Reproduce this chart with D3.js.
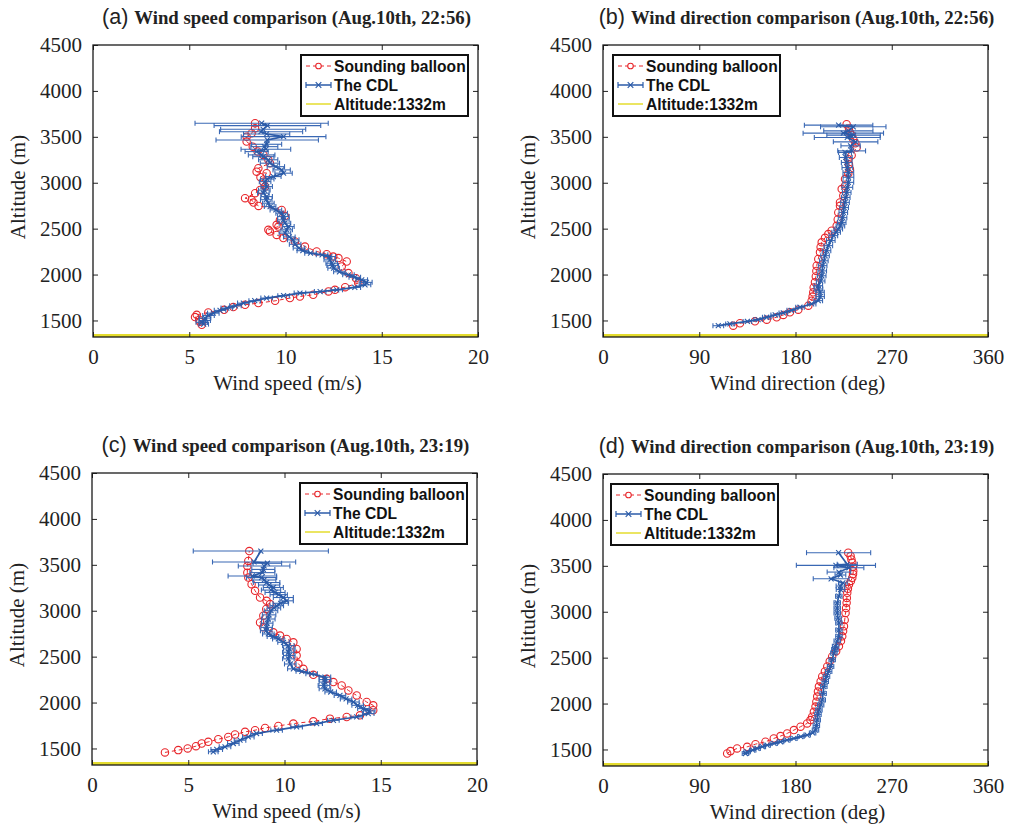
<!DOCTYPE html>
<html>
<head>
<meta charset="utf-8">
<script src="https://cdn.jsdelivr.net/npm/d3@7"></script>
<style>
  body { margin: 0; background: #fff; }
  svg { display: block; }
</style>
</head>
<body>
<svg id="fig" width="1009" height="827"></svg>
<script>
(function () {
  "use strict";

  // ---- data ----
  const yTicks = [1500, 2000, 2500, 3000, 3500, 4000, 4500];
  const speedTicks = [0, 5, 10, 15, 20];
  const dirTicks = [0, 90, 180, 270, 360];
  const siteAltitude = 1332;

  // (a) 22:56 wind speed
  const altBalloonA = [1453, 1485, 1508, 1537, 1562, 1587, 1616, 1646, 1671, 1689, 1714, 1744, 1761, 1780, 1816, 1834, 1863, 1907, 1961, 2016, 2088, 2142, 2179, 2196, 2222, 2251, 2305, 2360, 2397, 2432, 2469, 2487, 2523, 2542, 2595, 2639, 2704, 2748, 2784, 2813, 2832, 2886, 2922, 2958, 3012, 3060, 3104, 3121, 3158, 3213, 3249, 3303, 3340, 3393, 3448, 3502, 3539, 3593, 3648];
  const spdBalloonA = [5.65, 5.55, 5.52, 5.30, 5.39, 5.99, 6.81, 7.29, 7.90, 8.59, 9.46, 10.23, 10.75, 11.44, 12.23, 12.57, 13.10, 13.78, 13.66, 13.27, 12.92, 13.18, 12.75, 12.48, 12.14, 11.62, 11.01, 10.49, 9.89, 9.54, 9.19, 9.11, 9.63, 9.54, 9.71, 9.97, 9.80, 8.60, 8.34, 8.24, 7.90, 8.42, 8.68, 8.94, 8.85, 8.70, 9.02, 8.50, 8.59, 9.19, 9.11, 8.85, 8.55, 8.30, 7.98, 7.98, 8.24, 8.42, 8.42];
  const altCdlA = [1460, 1480, 1500, 1526, 1555, 1580, 1610, 1635, 1660, 1689, 1715, 1744, 1770, 1798, 1815, 1834, 1860, 1888, 1915, 1943, 1970, 1997, 2030, 2070, 2100, 2124, 2160, 2196, 2215, 2233, 2260, 2288, 2330, 2378, 2410, 2451, 2487, 2523, 2560, 2596, 2632, 2668, 2704, 2740, 2777, 2815, 2849, 2886, 2920, 2958, 3012, 3040, 3067, 3104, 3140, 3175, 3213, 3250, 3284, 3303, 3339, 3365, 3393, 3419, 3466, 3502, 3531, 3556, 3582, 3622, 3648];
  const spdCdlA = [5.75, 5.65, 5.80, 5.82, 6.00, 6.25, 6.60, 6.95, 7.40, 7.81, 8.40, 9.02, 9.90, 10.75, 11.80, 12.66, 13.60, 14.13, 14.20, 13.96, 13.60, 13.27, 12.80, 12.50, 12.45, 12.40, 12.30, 12.30, 11.90, 11.30, 10.90, 10.70, 10.50, 10.40, 10.20, 9.97, 10.06, 10.15, 9.97, 9.89, 9.89, 9.80, 9.50, 9.20, 9.11, 9.00, 9.02, 8.85, 8.90, 9.02, 8.94, 9.05, 9.37, 9.90, 9.80, 9.50, 9.19, 9.10, 8.85, 8.76, 8.50, 8.98, 8.90, 9.02, 9.05, 9.90, 9.02, 8.73, 8.84, 9.06, 8.76];
  const errCdlA = [0.25, 0.3, 0.3, 0.3, 0.3, 0.3, 0.3, 0.3, 0.3, 0.3, 0.3, 0.3, 0.3, 0.3, 0.3, 0.3, 0.3, 0.3, 0.3, 0.3, 0.3, 0.3, 0.3, 0.3, 0.3, 0.3, 0.3, 0.3, 0.3, 0.3, 0.3, 0.3, 0.3, 0.3, 0.3, 0.3, 0.3, 0.3, 0.3, 0.3, 0.3, 0.3, 0.3, 0.3, 0.3, 0.3, 0.3, 0.3, 0.3, 0.3, 0.3, 0.35, 0.4, 0.45, 0.45, 0.45, 0.5, 0.5, 0.55, 0.69, 0.6, 1.29, 0.7, 0.78, 2.66, 2.2, 1.2, 2.16, 2.21, 2.77, 3.46];

  // (b) 22:56 wind direction
  const altBalloonB = [1443, 1470, 1491, 1509, 1535, 1560, 1589, 1618, 1661, 1716, 1760, 1807, 1860, 1916, 1980, 2040, 2097, 2170, 2242, 2300, 2351, 2400, 2441, 2477, 2531, 2600, 2677, 2749, 2786, 2858, 2931, 2967, 3040, 3100, 3148, 3200, 3257, 3300, 3384, 3430, 3475, 3520, 3548, 3590, 3638];
  const dirBalloonB = [121.8, 128.1, 142.1, 153.1, 162.4, 168.6, 174.8, 182.6, 192.0, 195.1, 196.0, 196.6, 197.0, 198.2, 199.0, 199.5, 199.8, 201.3, 202.9, 203.5, 204.5, 207.6, 210.7, 213.8, 218.5, 219.5, 220.0, 221.6, 221.6, 224.7, 223.2, 226.3, 226.3, 229.4, 230.9, 230.0, 229.4, 232.5, 237.2, 236.0, 234.0, 232.5, 230.9, 230.0, 227.8];
  const altCdlB = [1443, 1462, 1490, 1510, 1535, 1560, 1582, 1610, 1644, 1680, 1716, 1760, 1807, 1843, 1879, 1930, 1987, 2040, 2097, 2150, 2206, 2260, 2315, 2370, 2424, 2460, 2496, 2530, 2568, 2620, 2677, 2730, 2786, 2840, 2895, 2950, 3004, 3060, 3112, 3165, 3221, 3275, 3330, 3347, 3402, 3445, 3493, 3518, 3540, 3565, 3609, 3627];
  const dirCdlB = [107.8, 118.7, 135, 145, 153.1, 161, 168.6, 176, 184.2, 195.1, 201.3, 203, 202.9, 201.5, 201.3, 203.5, 204.5, 205, 205.4, 206.5, 207.6, 209, 210.7, 213, 215.4, 218, 220, 222, 223.2, 224, 224.7, 225.5, 226.3, 227, 227.9, 228.5, 229.4, 229.5, 229.4, 228.5, 227.9, 227, 226.3, 232.5, 231.5, 236.2, 228.4, 234.3, 224.7, 229.4, 234.0, 220.3];
  const errCdlB = [5, 4, 4, 4, 4, 4, 4, 4, 4, 4, 4, 4, 4, 4, 4, 4, 4, 4, 4, 4, 4, 4, 4, 4, 4, 4, 4, 4, 4, 4, 4, 4, 4, 4, 4, 5, 5, 5, 5, 5, 5, 6, 6, 13, 9, 20.8, 30.8, 25, 37.6, 23, 30.6, 32];

  // (c) 23:19 wind speed
  const altBalloonC = [1457, 1482, 1500, 1525, 1554, 1572, 1601, 1626, 1652, 1681, 1699, 1724, 1746, 1771, 1796, 1825, 1843, 1861, 1916, 1970, 2006, 2078, 2132, 2187, 2223, 2259, 2302, 2367, 2422, 2512, 2584, 2656, 2693, 2729, 2765, 2819, 2873, 2946, 3020, 3072, 3108, 3144, 3217, 3289, 3361, 3415, 3488, 3542, 3650];
  const spdBalloonC = [3.79, 4.48, 4.97, 5.40, 5.70, 6.04, 6.56, 7.08, 7.43, 7.95, 8.47, 8.99, 9.68, 10.46, 11.50, 12.36, 13.23, 13.92, 14.61, 14.61, 14.27, 13.75, 13.32, 12.97, 12.54, 12.19, 11.50, 10.98, 10.72, 10.63, 10.63, 10.46, 10.11, 9.77, 9.42, 8.90, 8.73, 8.90, 9.05, 9.25, 9.07, 8.73, 8.47, 8.29, 8.12, 8.07, 8.07, 8.12, 8.17];
  const altCdlC = [1464, 1489, 1518, 1554, 1590, 1626, 1663, 1699, 1735, 1771, 1807, 1843, 1880, 1910, 1934, 1970, 2006, 2040, 2078, 2115, 2150, 2187, 2223, 2250, 2277, 2313, 2340, 2367, 2420, 2476, 2512, 2548, 2584, 2620, 2656, 2693, 2720, 2747, 2783, 2819, 2865, 2910, 2955, 3000, 3030, 3054, 3081, 3108, 3144, 3175, 3199, 3225, 3253, 3280, 3307, 3335, 3361, 3379, 3415, 3450, 3488, 3517, 3531, 3650];
  const spdCdlC = [6.30, 6.48, 6.91, 7.34, 7.69, 8.12, 8.55, 9.59, 10.63, 11.67, 12.54, 13.75, 14.35, 14.40, 14.10, 13.80, 13.58, 13.20, 12.88, 12.40, 12.10, 12.05, 12.10, 12.10, 12.10, 11.41, 10.90, 10.46, 10.30, 10.20, 10.25, 10.20, 10.25, 10.20, 9.95, 9.68, 9.40, 9.16, 9.05, 9.07, 9.10, 9.16, 9.20, 9.30, 9.45, 9.60, 9.80, 10.11, 9.94, 9.70, 9.51, 9.30, 9.42, 9.20, 9.07, 8.95, 8.81, 8.33, 8.85, 8.90, 8.94, 9.11, 8.42, 8.77];
  const errCdlC = [0.25, 0.3, 0.3, 0.3, 0.3, 0.3, 0.3, 0.3, 0.3, 0.3, 0.3, 0.3, 0.3, 0.3, 0.3, 0.3, 0.3, 0.3, 0.3, 0.3, 0.3, 0.3, 0.3, 0.3, 0.3, 0.3, 0.3, 0.3, 0.3, 0.3, 0.3, 0.3, 0.3, 0.3, 0.3, 0.3, 0.3, 0.3, 0.3, 0.3, 0.3, 0.35, 0.35, 0.35, 0.35, 0.35, 0.4, 0.35, 0.52, 0.45, 0.52, 0.5, 0.52, 0.55, 0.69, 0.6, 0.78, 1.26, 0.65, 0.6, 1.34, 0.74, 2.16, 3.51];

  // (d) 23:19 wind direction
  const altBalloonD = [1456, 1482, 1511, 1529, 1558, 1584, 1620, 1646, 1675, 1711, 1748, 1784, 1820, 1857, 1910, 1967, 2020, 2076, 2130, 2185, 2240, 2295, 2350, 2404, 2460, 2513, 2570, 2623, 2680, 2732, 2790, 2841, 2910, 2987, 3040, 3097, 3150, 3206, 3250, 3297, 3335, 3370, 3410, 3443, 3490, 3534, 3570, 3607, 3643];
  const dirBalloonD = [116.1, 119.2, 125.4, 134.8, 142.6, 151.9, 159.7, 166.0, 172.2, 178.5, 184.7, 190.9, 194.0, 195.6, 197.2, 198.7, 199.5, 200.3, 201.0, 201.9, 203.5, 205.0, 207.5, 209.7, 212.0, 214.3, 218.0, 220.6, 222.5, 223.7, 224.5, 225.3, 226.0, 226.8, 227.3, 227.8, 228.0, 228.4, 229.0, 230.0, 231.8, 233.1, 233.8, 234.0, 233.6, 233.1, 232.3, 231.5, 229.3];
  const altCdlD = [1456, 1474, 1493, 1511, 1530, 1547, 1566, 1584, 1602, 1620, 1640, 1657, 1680, 1711, 1760, 1821, 1880, 1930, 1985, 2039, 2110, 2185, 2240, 2295, 2350, 2404, 2477, 2550, 2590, 2623, 2680, 2732, 2800, 2878, 2930, 2987, 3040, 3097, 3170, 3242, 3280, 3315, 3359, 3400, 3432, 3479, 3505, 3516, 3643];
  const dirCdlD = [133.2, 134.8, 140, 144.1, 149, 153.5, 160, 166.0, 172, 178.5, 185, 190.9, 196, 198.7, 199.5, 200.3, 201, 201.9, 203.5, 205.0, 205.8, 206.5, 207.8, 209.0, 211, 212.8, 214.3, 215.9, 216.8, 217.5, 219, 220.6, 220.6, 220.6, 219.8, 219.0, 219, 219.0, 220.5, 222.1, 222.0, 224.3, 213.3, 222, 220.6, 229.9, 217.8, 228.4, 220.3];
  const errCdlD = [3, 3, 3, 3, 3, 3, 3, 3, 3, 3, 3, 3, 3, 3, 3, 3, 3, 3, 3, 3, 3, 3, 3, 3, 3, 3, 3, 3, 3, 3, 3, 3, 3, 3, 3, 3, 3, 3, 3, 4, 4, 4, 16.7, 5, 11, 14, 37, 9.4, 30];

  const legendLabels = ["Sounding balloon", "The CDL", "Altitude:1332m"];

  // ---- drawing ----
  const W = 385, H = 292;
  const RED = "#e8262b", BLUE = "#2b5ba8", YELLOW = "#e4dc2e";
  const SERIF = "Liberation Serif, Times New Roman, serif";
  const SANS = "Liberation Sans, Arial, sans-serif";
  const svg = d3.select("#fig");

  function zip(alts, vals, errs) {
    return alts.map(function (a, i) {
      return { alt: a, v: vals[i], e: errs ? errs[i] : 0 };
    });
  }

  function drawPanel(p) {
    let g = svg.append("g").attr("transform", `translate(${p.left},${p.top})`);
    let x = d3.scaleLinear().domain(p.xDomain).range([0, W]);
    let y = d3.scaleLinear().domain([1320, 4500]).range([H, 0]);

    let clipId = "clip-" + p.id;
    g.append("clipPath").attr("id", clipId)
      .append("rect").attr("width", W).attr("height", H);

    // title
    let title = g.append("text")
      .attr("x", W / 2 + 1).attr("y", -28)
      .attr("text-anchor", "middle")
      .attr("dominant-baseline", "central")
      .attr("fill", "#222");
    title.append("tspan")
      .attr("font-family", SANS)
      .attr("font-size", 21.5)
      .text(`(${p.id}) `);
    title.append("tspan")
      .attr("font-family", SERIF)
      .attr("font-weight", "bold")
      .attr("font-size", 18.8)
      .text(p.title);

    let plot = g.append("g").attr("clip-path", `url(#${clipId})`);

    // site altitude line
    plot.append("line")
      .attr("x1", 0).attr("x2", W)
      .attr("y1", y(siteAltitude)).attr("y2", y(siteAltitude))
      .attr("stroke", YELLOW).attr("stroke-width", 4);

    // sounding balloon
    let balloon = zip(p.balloonAlt, p.balloonVal);
    let line = d3.line().x(d => x(d.v)).y(d => y(d.alt));
    plot.append("path").datum(balloon)
      .attr("d", line)
      .attr("fill", "none").attr("stroke", RED)
      .attr("stroke-width", 1).attr("stroke-dasharray", "4,3");
    plot.selectAll(".balloon").data(balloon).enter().append("circle")
      .attr("class", "balloon")
      .attr("cx", d => x(d.v)).attr("cy", d => y(d.alt))
      .attr("r", 3.7)
      .attr("fill", "none").attr("stroke", RED).attr("stroke-width", 1.1);

    // CDL with error bars
    let cdl = zip(p.cdlAlt, p.cdlVal, p.cdlErr);
    let bars = plot.selectAll(".bar").data(cdl).enter().append("g").attr("class", "bar")
      .attr("stroke", "#3a68b4").attr("stroke-width", 1.1);
    bars.append("line")
      .attr("x1", d => x(d.v - d.e)).attr("x2", d => x(d.v + d.e))
      .attr("y1", d => y(d.alt)).attr("y2", d => y(d.alt));
    bars.append("line")
      .attr("x1", d => x(d.v - d.e)).attr("x2", d => x(d.v - d.e))
      .attr("y1", d => y(d.alt) - 2.5).attr("y2", d => y(d.alt) + 2.5);
    bars.append("line")
      .attr("x1", d => x(d.v + d.e)).attr("x2", d => x(d.v + d.e))
      .attr("y1", d => y(d.alt) - 2.5).attr("y2", d => y(d.alt) + 2.5);
    plot.append("path").datum(cdl)
      .attr("d", line)
      .attr("fill", "none").attr("stroke", BLUE).attr("stroke-width", 1.7);
    plot.selectAll(".cross").data(cdl).enter().append("path")
      .attr("class", "cross")
      .attr("transform", d => `translate(${x(d.v)},${y(d.alt)})`)
      .attr("d", "M-2.5,-2.5L2.5,2.5M-2.5,2.5L2.5,-2.5")
      .attr("stroke", BLUE).attr("stroke-width", 1.1);

    // axes, ticks pointing inward on all four sides
    let xAxis = g.append("g").attr("transform", `translate(0,${H})`)
      .call(d3.axisBottom(x).tickValues(p.xTicks).tickFormat(d3.format("d"))
        .tickSizeInner(-5).tickSizeOuter(0).tickPadding(12));
    let yAxis = g.append("g")
      .call(d3.axisLeft(y).tickValues(yTicks).tickFormat(d3.format("d"))
        .tickSizeInner(-5).tickSizeOuter(0).tickPadding(11));
    g.append("g")
      .call(d3.axisTop(x).tickValues(p.xTicks).tickSizeInner(-5).tickSizeOuter(0).tickFormat(""));
    g.append("g").attr("transform", `translate(${W},0)`)
      .call(d3.axisRight(y).tickValues(yTicks).tickSizeInner(-5).tickSizeOuter(0).tickFormat(""));
    g.selectAll(".domain").attr("stroke", "none");
    g.selectAll(".tick line").attr("stroke", "#222").attr("stroke-width", 1);
    [xAxis, yAxis].forEach(function (ax) {
      ax.selectAll("text")
        .attr("font-family", SERIF)
        .attr("font-size", 21)
        .attr("fill", "#222");
    });
    g.append("rect")
      .attr("width", W).attr("height", H)
      .attr("fill", "none").attr("stroke", "#1a1a1a").attr("stroke-width", 1.3);

    // axis labels
    g.append("text")
      .attr("x", W / 2 + 2).attr("y", H + 46)
      .attr("text-anchor", "middle").attr("dominant-baseline", "central")
      .attr("font-family", SERIF)
      .attr("font-size", 21).attr("fill", "#222")
      .text(p.xLabel);
    g.append("text")
      .attr("transform", `translate(-75,${H / 2 - 4}) rotate(-90)`)
      .attr("text-anchor", "middle").attr("dominant-baseline", "central")
      .attr("font-family", SERIF)
      .attr("font-size", 21).attr("fill", "#222")
      .text("Altitude (m)");

    // legend
    let lg = g.append("g").attr("transform", `translate(${p.legendX},10)`);
    lg.append("rect")
      .attr("width", 167).attr("height", 61)
      .attr("fill", "#fff").attr("stroke", "#111").attr("stroke-width", 2);
    let rows = [11, 30, 49];
    let x0 = 5, x1 = 30, xm = 17.5;
    // balloon sample
    lg.append("line").attr("x1", x0).attr("x2", x1).attr("y1", rows[0]).attr("y2", rows[0])
      .attr("stroke", RED).attr("stroke-width", 1).attr("stroke-dasharray", "4,3");
    lg.append("circle").attr("cx", xm).attr("cy", rows[0]).attr("r", 2.8)
      .attr("fill", "#fff").attr("stroke", RED).attr("stroke-width", 1.1);
    // CDL sample
    lg.append("line").attr("x1", x0).attr("x2", x1).attr("y1", rows[1]).attr("y2", rows[1])
      .attr("stroke", BLUE).attr("stroke-width", 1.5);
    [x0, x1].forEach(function (cx) {
      lg.append("line").attr("x1", cx).attr("x2", cx).attr("y1", rows[1] - 3).attr("y2", rows[1] + 3)
        .attr("stroke", BLUE).attr("stroke-width", 1.2);
    });
    lg.append("path").attr("transform", `translate(${xm},${rows[1]})`)
      .attr("d", "M-2.8,-2.8L2.8,2.8M-2.8,2.8L2.8,-2.8")
      .attr("stroke", BLUE).attr("stroke-width", 1.2);
    // site sample
    lg.append("line").attr("x1", x0).attr("x2", x1).attr("y1", rows[2]).attr("y2", rows[2])
      .attr("stroke", YELLOW).attr("stroke-width", 1.5);
    legendLabels.forEach(function (label, i) {
      lg.append("text")
        .attr("x", 33).attr("y", rows[i])
        .attr("dominant-baseline", "central")
        .attr("font-family", SANS)
        .attr("font-weight", "bold").attr("font-size", 15.6)
        .attr("fill", "#111")
        .text(label);
    });
  }

  let panels = [
    { id: "a", left: 93, top: 45, xDomain: [0, 20], xTicks: speedTicks, xLabel: "Wind speed (m/s)",
      title: "Wind speed comparison (Aug.10th, 22:56)", legendX: 208,
      balloonAlt: altBalloonA, balloonVal: spdBalloonA, cdlAlt: altCdlA, cdlVal: spdCdlA, cdlErr: errCdlA },
    { id: "b", left: 603, top: 45, xDomain: [0, 360], xTicks: dirTicks, xLabel: "Wind direction (deg)",
      title: "Wind direction comparison (Aug.10th, 22:56)", legendX: 10,
      balloonAlt: altBalloonB, balloonVal: dirBalloonB, cdlAlt: altCdlB, cdlVal: dirCdlB, cdlErr: errCdlB },
    { id: "c", left: 92, top: 473, xDomain: [0, 20], xTicks: speedTicks, xLabel: "Wind speed (m/s)",
      title: "Wind speed comparison (Aug.10th, 23:19)", legendX: 208,
      balloonAlt: altBalloonC, balloonVal: spdBalloonC, cdlAlt: altCdlC, cdlVal: spdCdlC, cdlErr: errCdlC },
    { id: "d", left: 603, top: 474, xDomain: [0, 360], xTicks: dirTicks, xLabel: "Wind direction (deg)",
      title: "Wind direction comparison (Aug.10th, 23:19)", legendX: 8,
      balloonAlt: altBalloonD, balloonVal: dirBalloonD, cdlAlt: altCdlD, cdlVal: dirCdlD, cdlErr: errCdlD }
  ];

  panels.forEach(drawPanel);
}());
</script>
</body>
</html>
